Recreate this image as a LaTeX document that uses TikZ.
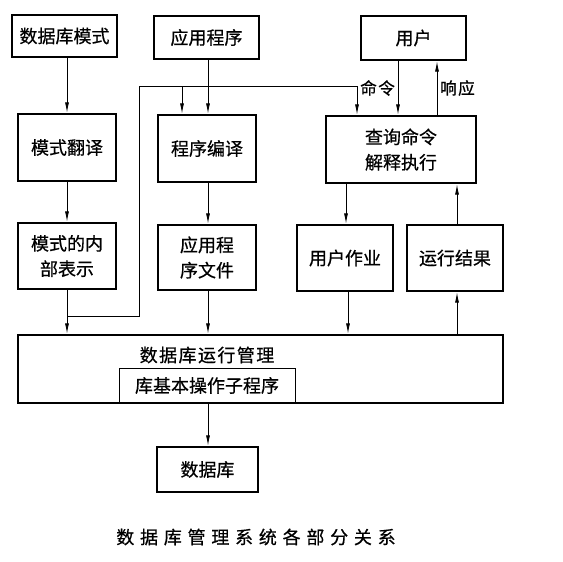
\documentclass[tikz,border=0pt]{standalone}
\usepackage{fontspec}
\newfontfamily\cjk[FakeBold=0.6]{Noto Sans CJK SC}
\newfontfamily\cjkmid[FakeBold=0.6, LetterSpace=8]{Noto Sans CJK SC}
\newfontfamily\cjkwide[FakeBold=0.6, LetterSpace=32]{Noto Sans CJK SC}
\usetikzlibrary{arrows.meta}

\begin{document}
\begin{tikzpicture}[x=0.75pt, y=-0.75pt, font=\cjk\fontsize{13.5}{19}\selectfont,
  box/.style={draw, line width=1.5pt, inner sep=0pt, align=center},
  sz/.style 2 args={minimum width=#1*0.75pt, minimum height=#2*0.75pt},
  arr/.style={-{Latex[length=8pt, width=3pt]}, line width=0.7pt},
  tag/.style={font=\cjkmid\fontsize{12.5}{15}\selectfont, inner sep=2pt}]
  % 1 unit = 1 pixel of the 563 x 561 reference, y runs downwards
  \useasboundingbox (0,0) rectangle (563,561);
  \node[box, sz={105}{42}, line width=2pt] (schema) at (64.5,36) {数据库模式};
  \node[box, sz={105}{43}] (app) at (206.5,37.5) {应用程序};
  \node[box, sz={105}{44}] (user) at (413.5,38) {用户};
  \node[box, sz={98}{67}] (trans) at (67,147.5) {模式翻译};
  \node[box, sz={98}{67}] (comp) at (207,148.5) {程序编译};
  \node[box, sz={150}{67}] (query) at (401,149.5) {查询命令\\解释执行};
  \node[box, sz={98}{66}] (internal) at (67,256) {模式的内\\部表示};
  \node[box, sz={98}{65}] (appfile) at (207,257.5) {应用程\\序文件};
  \node[box, sz={96}{66}] (job) at (345,258) {用户作业};
  \node[box, sz={96}{66}] (result) at (455,258) {运行结果};
  \node[box, sz={485}{68}] (dbms) at (260.5,369) {};
  \node[font=\cjkmid\fontsize{13.5}{16}\selectfont] (dbmslabel) at (207,355) {数据库运行管理};
  \node[box, sz={176}{34}, line width=0.75pt, anchor=south] (lib) at (207,403) {库基本操作子程序};
  \node[box, sz={101}{45}] (db) at (207.5,469.5) {数据库};
  \node[font=\cjkwide\fontsize{13.5}{16}\selectfont] (caption) at (256,537) {数据库管理系统各部分关系};

  % downward flow
  \foreach \a/\b/\x in {schema/trans/67, trans/internal/67, internal/dbms/67,
      app/comp/208, comp/appfile/208, appfile/dbms/208,
      query/job/346, job/dbms/348, lib/db/208}
    { \draw[arr] (\x,0 |- \a.south) -- (\x,0 |- \b.north); }
  % results going back up
  \draw[arr] (457,0 |- dbms.north) -- (457,0 |- result.south);
  \draw[arr] (457,0 |- result.north) -- (457,0 |- query.south);
  \draw[arr] (398,0 |- user.south) -- (398,0 |- query.north) node[tag, midway, left] (cmd) {命令};
  \draw[arr] (437,0 |- query.north) -- (437,0 |- user.south) node[tag, midway, right] (resp) {响应};
  % loop from the internal schema back to the compilers
  \coordinate (loopjoin) at (67,316);
  \coordinate (branch) at (182,86);
  \draw[arr] (loopjoin) -| (139,86) -| (357,0 |- query.north);
  \draw[arr] (branch) -- (182,0 |- comp.north);
\end{tikzpicture}
\end{document}
